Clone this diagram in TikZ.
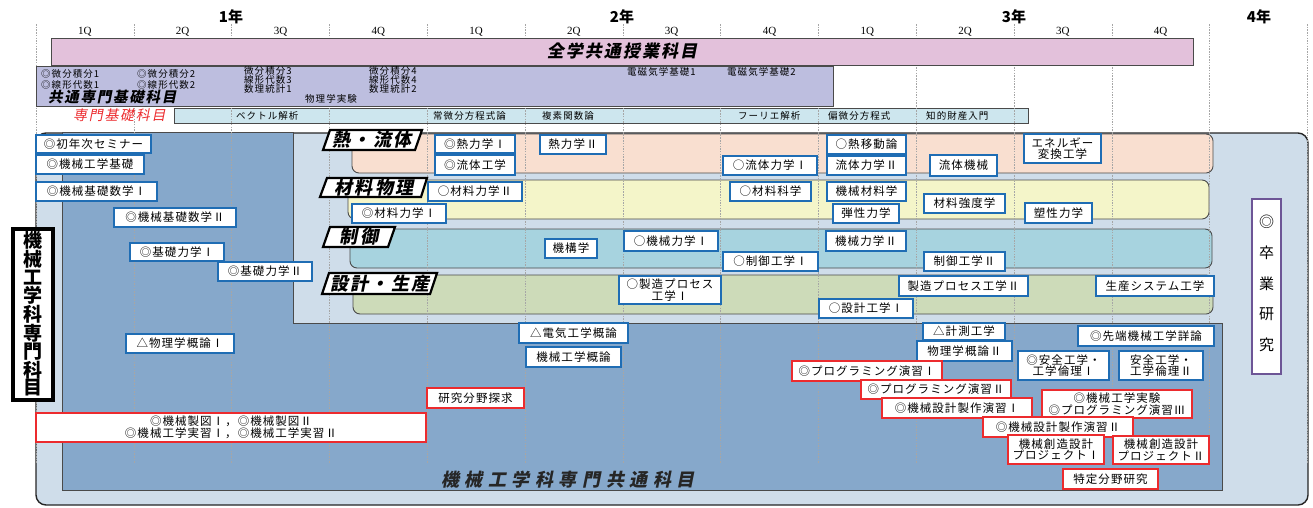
\documentclass[tikz,border=0pt]{standalone}
\usepackage{fontspec}
\setmainfont{Liberation Serif}
\newfontfamily\jp[LetterSpace=9]{Noto Sans CJK JP}
\newfontfamily\jpsm[LetterSpace=11]{Noto Sans CJK JP}
\newfontfamily\jpb{Noto Sans CJK JP}
\newfontfamily\jptag[FakeSlant=0.2,LetterSpace=12]{Noto Sans CJK JP}
\newfontfamily\jpttl[FakeSlant=0.2,LetterSpace=12]{Noto Sans CJK JP}
\newfontfamily\jpbig[FakeSlant=0.2,LetterSpace=31]{Noto Sans CJK JP}
\definecolor{pinkbar}{HTML}{E3C1DB}
\definecolor{lavbar}{HTML}{BDBEDF}
\definecolor{lbband}{HTML}{CDE6EE}
\definecolor{outerc}{HTML}{CFDDEA}
\definecolor{darkc}{HTML}{86A8CB}
\definecolor{peachc}{HTML}{F9DFD0}
\definecolor{yelc}{HTML}{F4F5C9}
\definecolor{tealc}{HTML}{A7D3DF}
\definecolor{grnc}{HTML}{CDDBB9}
\definecolor{cblue}{HTML}{1F6DB4}
\definecolor{cred}{HTML}{EC2B2E}
\definecolor{cpurp}{HTML}{6D5596}
\definecolor{edgec}{HTML}{4A4A4A}
\tikzset{
  cb/.style={draw=cblue, line width=2.2pt, fill=white, inner sep=0.5pt, align=center,
    font=\jp\fontsize{11.5}{11.5}\selectfont},
  cr/.style={cb, draw=cred},
  gridl/.style={draw=gray!70, line width=0.5pt, dash pattern=on 1.5pt off 1.2pt},
  band/.style={draw=edgec, line width=0.9pt, rounded corners=7pt},
  tagbox/.style={draw=black, line width=2.2pt, fill=white, line join=miter},
  tagtxt/.style={font=\jptag\bfseries\fontsize{18}{18}\selectfont, inner sep=0pt},
  small/.style={font=\jpsm\fontsize{9.5}{9.5}\selectfont, inner sep=0pt, align=left},
  qlab/.style={font=\fontsize{11}{11}\selectfont, inner sep=0pt},
  ylab/.style={font=\jpb\bfseries\fontsize{15}{15}\selectfont, inner sep=0pt},
}
\newcommand\crs[7][cb]{\node[#1, minimum width={#5-#3-2.2}, minimum height={#6-#4-2.2}] (#2) at ({(#3+#5)/2},{(#4+#6)/2}) {#7};}
\begin{document}
\begin{tikzpicture}[x=1pt,y=-1pt]
\useasboundingbox (0,0) rectangle (1313,507);
% outer box
\draw[fill=outerc, draw=black!85, line width=1.4pt, rounded corners=10pt] (36,133) rectangle (1308,505);
% dark L-shape
\draw[fill=darkc, draw=edgec, line width=0.9pt] (62,132) -- (293,132) -- (293,323) -- (1222,323) -- (1222,490) -- (62,490) -- cycle;
% bands
\draw[band, fill=peachc] (352,134) -- (1213,134) -- (1213,173) -- (352,173) -- (352,134);
\draw[band, fill=yelc] (348,180) -- (1209,180) -- (1209,219) -- (348,219) -- (348,180);
\draw[band, fill=tealc] (350,229) -- (1212,229) -- (1212,268) -- (350,268) -- (350,229);
\draw[band, fill=grnc] (353,275) -- (1213,275) -- (1213,314) -- (353,314) -- (353,275);
% light band (senmon kiso)
\draw[fill=lbband, draw=edgec, line width=0.8pt] (174,108) rectangle (1028,123);
% grid
\foreach \k in {0,...,13} \draw[gridl] ({36+97.8*\k},24) -- ({36+97.8*\k},464);
% top bars
\draw[fill=pinkbar, draw=edgec, line width=0.8pt] (51,38) rectangle (1193,65);
\draw[fill=lavbar, draw=edgec, line width=0.8pt] (36,66) rectangle (833,106);
% year / quarter labels
\node[ylab] (y1) at (231,17) {1年};
\node[ylab] (y2) at (622,17) {2年};
\node[ylab] (y3) at (1014,17) {3年};
\node[ylab] (y4) at (1259,17) {4年};
\foreach \yy in {0,1,2} {
  \foreach \q in {1,2,3,4} {
    \node[qlab] (q\yy\q) at ({36+391.2*\yy+97.8*(\q-1)+48.9},32) {\q Q};
  }
}
% bar titles
\node[font=\jpttl\bfseries\fontsize{17}{17}\selectfont, inner sep=0pt] (zengaku) at (622,51) {全学共通授業科目};
\node[font=\jpttl\bfseries\fontsize{14.5}{14.5}\selectfont, inner sep=0pt, anchor=west] (kyotsu) at (48,97) {共通専門基礎科目};
\node[font=\jptag\fontsize{14}{14}\selectfont, text=cred, inner sep=0pt, anchor=west] (senkiso) at (73,115) {専門基礎科目};
% lavender texts
\node[small, anchor=west] (m1) at (41,74) {◎微分積分1};
\node[small, anchor=west] (m2) at (41,85) {◎線形代数1};
\node[small, anchor=west] (m3) at (137,74) {◎微分積分2};
\node[small, anchor=west] (m4) at (137,85) {◎線形代数2};
\node[small, anchor=west, font=\jpsm\fontsize{9.5}{9}\selectfont] (m5) at (244,80) {微分積分3\\線形代数3\\数理統計1};
\node[small, anchor=west, font=\jpsm\fontsize{9.5}{9}\selectfont] (m6) at (369,80) {微分積分4\\線形代数4\\数理統計2};
\node[small, anchor=west] (m7) at (305,99) {物理学実験};
\node[small, anchor=west] (m8) at (627,72) {電磁気学基礎1};
\node[small, anchor=west] (m9) at (727,72) {電磁気学基礎2};
% light band texts
\node[small, anchor=west] (b1) at (236,115.5) {ベクトル解析};
\node[small, anchor=west] (b2) at (433,115.5) {常微分方程式論};
\node[small, anchor=west] (b3) at (542,115.5) {複素関数論};
\node[small, anchor=west] (b4) at (738,115.5) {フーリエ解析};
\node[small, anchor=west] (b5) at (828,115.5) {偏微分方程式};
\node[small, anchor=west] (b6) at (926,115.5) {知的財産入門};
% tags
\draw[tagbox] (330,130) -- (422,130) -- (415,150) -- (323,150) -- cycle;
\node[tagtxt] (t1) at (372,140) {熱・流体};
\draw[tagbox] (327,178) -- (427,178) -- (421,197) -- (320,197) -- cycle;
\node[tagtxt] (t2) at (374,187.5) {材料物理};
\draw[tagbox] (330,227) -- (395,227) -- (388,247) -- (323,247) -- cycle;
\node[tagtxt] (t3) at (359,237) {制御};
\draw[tagbox] (329,273) -- (437,273) -- (430,294) -- (322,294) -- cycle;
\node[tagtxt] (t4) at (380,283.5) {設計・生産};
% vertical labels
\draw[draw=black, line width=3.2pt, fill=white] (13,229) rectangle (53,400);
\node[font=\jpb\bfseries\fontsize{19}{17.75}\selectfont, align=center, inner sep=0pt] (vl) at (33,314) {機\\械\\工\\学\\科\\専\\門\\科\\目};
\draw[draw=cpurp, line width=2.6pt, fill=white] (1252,199) rectangle (1281,374);
\node[font=\jpb\fontsize{15}{30.7}\selectfont, align=center, inner sep=0pt] (vr) at (1266.5,283.5) {◎\\卒\\業\\研\\究};
% bottom title
\node[font=\jpbig\bfseries\fontsize{18}{18}\selectfont, text=black!85, inner sep=0pt] (bt) at (568,480) {機械工学科専門共通科目};
% blue course boxes
\crs{n1}{35}{134}{152}{154}{◎初年次セミナー}
\crs{n2}{35}{154}{145}{175}{◎機械工学基礎}
\crs{n3}{35}{181}{158}{202}{◎機械基礎数学Ⅰ}
\crs{n4}{113}{207}{237}{228}{◎機械基礎数学Ⅱ}
\crs{n5}{129}{242}{225}{262}{◎基礎力学Ⅰ}
\crs{n6}{217}{261}{313}{282}{◎基礎力学Ⅱ}
\crs{n7}{434}{134}{516}{154}{◎熱力学Ⅰ}
\crs{n8}{434}{154}{516}{176}{◎流体工学}
\crs{n9}{539}{134}{607}{155}{熱力学Ⅱ}
\crs{n10}{722}{155}{818}{176}{○流体力学Ⅰ}
\crs{n11}{826}{134}{907}{155}{○熱移動論}
\crs{n12}{826}{155}{907}{176}{流体力学Ⅱ}
\crs{n13}{929}{154}{998}{177}{流体機械}
\crs{n14}{1023}{133}{1102}{164}{エネルギー\\変換工学}
\crs{n15}{427}{181}{523}{202}{○材料力学Ⅱ}
\crs{n16}{351}{203}{447}{224}{◎材料力学Ⅰ}
\crs{n17}{729}{181}{812}{202}{○材料科学}
\crs{n18}{826}{181}{907}{202}{機械材料学}
\crs{n19}{832}{203}{900}{224}{弾性力学}
\crs{n20}{923}{193}{1006}{214}{材料強度学}
\crs{n21}{1024}{202}{1093}{224}{塑性力学}
\crs{n22}{544}{238}{598}{259}{機構学}
\crs{n23}{623}{230}{719}{252}{○機械力学Ⅰ}
\crs{n24}{722}{251}{819}{272}{○制御工学Ⅰ}
\crs{n25}{825}{230}{907}{252}{機械力学Ⅱ}
\crs{n26}{923}{251}{1006}{272}{制御工学Ⅱ}
\crs{n27}{618}{275}{722}{305}{○製造プロセス\\工学Ⅰ}
\crs{n28}{898}{275}{1029}{297}{製造プロセス工学Ⅱ}
\crs{n29}{818}{298}{914}{319}{○設計工学Ⅰ}
\crs{n30}{1095}{275}{1215}{297}{生産システム工学}
\crs{n31}{125}{333}{235}{354}{△物理学概論Ⅰ}
\crs{n32}{518}{322}{629}{344}{△電気工学概論}
\crs{n33}{525}{346}{622}{368}{機械工学概論}
\crs{n34}{922}{322}{1006}{341}{△計測工学}
\crs{n35}{916}{340}{1013}{362}{物理学概論Ⅱ}
\crs{n36}{1077}{325}{1215}{347}{◎先端機械工学詳論}
\crs{n37}{1017}{350}{1110}{381}{◎安全工学・\\工学倫理Ⅰ}
\crs{n38}{1118}{350}{1204}{381}{安全工学・\\工学倫理Ⅱ}
% red course boxes
\crs[cr]{r1}{35}{412}{427}{443}{◎機械製図Ⅰ，◎機械製図Ⅱ\\◎機械工学実習Ⅰ，◎機械工学実習Ⅱ}
\crs[cr]{r2}{426}{387}{525}{409}{研究分野探求}
\crs[cr]{r3}{791}{360}{943}{382}{◎プログラミング演習Ⅰ}
\crs[cr]{r4}{860}{379}{1012}{400}{◎プログラミング演習Ⅱ}
\crs[cr]{r5}{881}{397}{1033}{419}{◎機械設計製作演習Ⅰ}
\crs[cr]{r6}{1041}{389}{1193}{419}{◎機械工学実験\\◎プログラミング演習Ⅲ}
\crs[cr]{r7}{982}{416}{1134}{438}{◎機械設計製作演習Ⅱ}
\crs[cr]{r8}{1007}{434}{1105}{465}{機械創造設計\\プロジェクトⅠ}
\crs[cr]{r9}{1112}{435}{1210}{465}{機械創造設計\\プロジェクトⅡ}
\crs[cr]{r10}{1062}{468}{1159}{490}{特定分野研究}
\end{tikzpicture}
\end{document}
